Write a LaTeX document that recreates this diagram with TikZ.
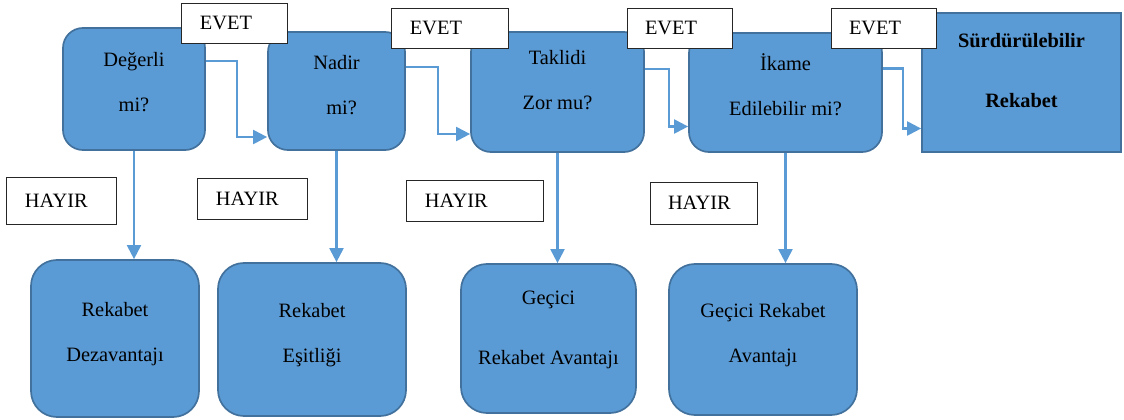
\documentclass[tikz,border=0pt]{standalone}
\usepackage{fontspec}
\setmainfont{Liberation Serif}
\usetikzlibrary{positioning, arrows.meta}
\definecolor{boxblue}{RGB}{91,155,213}
\definecolor{boxedge}{RGB}{65,113,156}
\definecolor{flowblue}{RGB}{91,155,213}

\begin{document}
\begin{tikzpicture}[
  x=0.025cm, y=-0.025cm,
  box/.style={rectangle, draw=boxedge, fill=boxblue, line width=1.2pt, rounded corners=0.5cm, align=center, inner sep=0pt, font=\fontsize{14.5pt}{32pt}\selectfont},
  lbl/.style={rectangle, draw=black!85, fill=white, line width=0.7pt, align=left, inner xsep=0.45cm, inner ysep=0pt, font=\fontsize{14.5pt}{16pt}\selectfont},
  flow/.style={draw=flowblue, line width=1.5pt, -{Triangle[length=0.35cm, width=0.35cm]}}
]
\useasboundingbox (0,0) rectangle (1124,420);

\node[box, text depth=10pt, minimum width=3.55cm, minimum height=3.05cm] (degerli) at (134,89) {Değerli\\mi?};
\node[box, text depth=8.5pt, minimum width=3.425cm, minimum height=2.95cm] (nadir) at (336.5,91) {Nadir\\\ \ mi?};
\node[box, text depth=17pt, minimum width=4.325cm, minimum height=3.0cm] (taklit) at (557.5,92) {Taklidi\\Zor mu?};
\node[box, text depth=11.5pt, minimum width=4.825cm, minimum height=2.975cm] (ikame) at (785.5,92.5) {İkame\\Edilebilir mi?};
\node[box, sharp corners, text depth=17pt, minimum width=4.975cm, minimum height=3.475cm] (surd) at (1021.5,82.5) {\textbf{Sürdürülebilir}\\[0.38cm]\textbf{Rekabet}};

\node[box, rounded corners=0.65cm, text depth=8.7pt, minimum width=4.2cm, minimum height=3.925cm] (dezav) at (115,338.5) {Rekabet\\Dezavantajı};
\node[box, rounded corners=0.65cm, text depth=8.7pt, minimum width=4.7cm, minimum height=3.825cm] (esit) at (312,339.5) {Rekabet\\Eşitliği};
\node[box, rounded corners=0.65cm, text depth=15pt, minimum width=4.375cm, minimum height=3.725cm] (gecici) at (548.5,338.5) {Geçici\\[0.38cm]Rekabet Avantajı};
\node[box, rounded corners=0.65cm, text depth=8.7pt, minimum width=4.7cm, minimum height=3.775cm] (gecicirek) at (763,339.5) {Geçici Rekabet\\Avantajı};

\draw[flow] ([yshift=0.7cm]degerli.east) -- ++(31,0) |- ([yshift=-1.15cm]nadir.west);
\draw[flow] ([yshift=0.6cm]nadir.east) -- ++(32,0) |- ([yshift=-1.05cm]taklit.west);
\draw[flow] ([yshift=0.575cm]taklit.east) -- ++(24,0) |- ([yshift=-0.85cm]ikame.west);
\draw[flow] ([yshift=0.6cm]ikame.east) -- ++(20,0) |- ([yshift=-1.15cm]surd.west);

\draw[flow] (degerli.south) -- (degerli.south |- dezav.north);
\draw[flow] (nadir.south) -- (nadir.south |- esit.north);
\draw[flow] (taklit.south) -- (taklit.south |- gecici.north);
\draw[flow] (ikame.south) -- (ikame.south |- gecicirek.north);

\node[lbl, text width=1.725cm, minimum height=1.0cm] (evet1) at (234.5,23) {EVET};
\node[lbl, text width=2.0cm, minimum height=1.0cm] (evet2) at (450,28) {EVET};
\node[lbl, text width=1.725cm, minimum height=1.0cm] (evet3) at (679.5,28) {EVET};
\node[lbl, text width=1.725cm, minimum height=1.0cm] (evet4) at (883.5,28) {EVET};

\node[lbl, text width=1.825cm, minimum height=1.175cm] (hayir1) at (61.5,200.5) {HAYIR};
\node[lbl, text width=1.825cm, minimum height=1.025cm] (hayir2) at (252.5,198.5) {HAYIR};
\node[lbl, text width=2.5cm, minimum height=1.025cm] (hayir3) at (475,200.5) {HAYIR};
\node[lbl, text width=1.775cm, minimum height=1.05cm] (hayir4) at (703.5,203) {HAYIR};
\end{tikzpicture}
\end{document}
